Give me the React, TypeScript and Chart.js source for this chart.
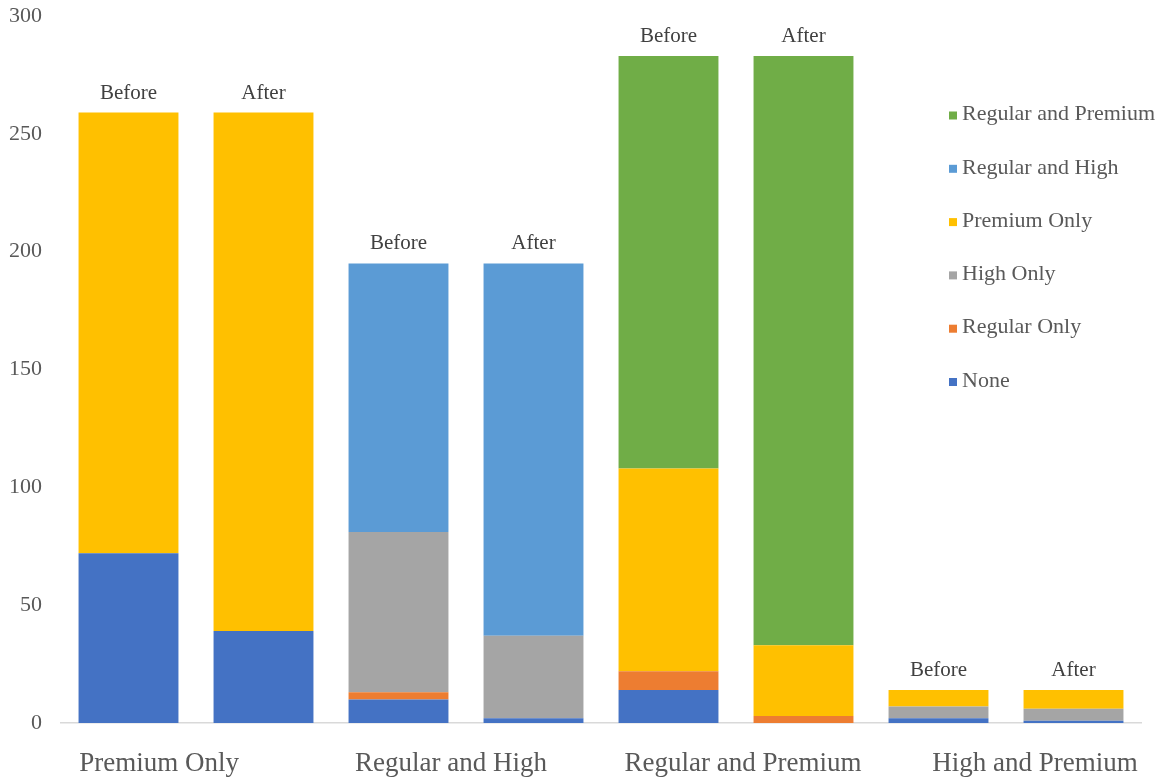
import { useEffect, useRef } from "react";
import { Chart, registerables } from "chart.js";

Chart.register(...registerables);

// Customer groups, each shown as a Before / After pair of stacked bars
const groups = ["Premium Only", "Regular and High", "Regular and Premium", "High and Premium"];
const phases = ["Before", "After"];
const barLabels = groups.flatMap(() => phases);

// Values per bar, in order: group 1 Before, group 1 After, group 2 Before, ...
const none = [72, 39, 10, 2, 14, 0, 2, 1];
const regularOnly = [0, 0, 3, 0, 8, 3, 0, 0];
const highOnly = [0, 0, 68, 35, 0, 0, 5, 5];
const premiumOnly = [187, 220, 0, 0, 86, 30, 7, 8];
const regularAndHigh = [0, 0, 114, 158, 0, 0, 0, 0];
const regularAndPremium = [0, 0, 0, 0, 175, 250, 0, 0];

const seriesNames = ["None", "Regular Only", "High Only", "Premium Only", "Regular and High", "Regular and Premium"];
const seriesValues = [none, regularOnly, highOnly, premiumOnly, regularAndHigh, regularAndPremium];
const seriesColors = ["#4472C4", "#ED7D31", "#A5A5A5", "#FFC000", "#5B9BD5", "#70AD47"];

const yMin = 0;
const yMax = 300;
const yStep = 50;

// Range of the axis that carries the group names
const groupAxisMin = -0.336;
const groupAxisMax = 3.363;

const FONT = '"Liberation Serif", "Times New Roman", serif';
const AXIS_TEXT = "#595959";
const LABEL_TEXT = "#404040";

// "Before" / "After" written above each stacked bar
const phaseLabelPlugin = {
  id: "phaseLabels",
  afterDatasetsDraw(chart: any) {
    const { ctx } = chart;
    const xScale = chart.scales.x;
    const yScale = chart.scales.y;
    ctx.save();
    ctx.font = `21px ${FONT}`;
    ctx.fillStyle = LABEL_TEXT;
    ctx.textAlign = "center";
    ctx.textBaseline = "alphabetic";
    barLabels.forEach((label, i) => {
      const total = seriesValues.reduce((sum, arr) => sum + arr[i], 0);
      const x = xScale.getPixelForValue(i);
      const y = yScale.getPixelForValue(total);
      ctx.fillText(label, x, y - 14);
    });
    ctx.restore();
  },
};

// Vertical legend inside the plot, top series first
const insideLegendPlugin = {
  id: "insideLegend",
  afterDraw(chart: any) {
    const { ctx, chartArea } = chart;
    const boxSize = 8;
    const left = chartArea.right - 192;
    const firstRow = chartArea.top + 98.5;
    const rowGap = 53.3;
    ctx.save();
    ctx.font = `22px ${FONT}`;
    ctx.textAlign = "left";
    ctx.textBaseline = "middle";
    const order = seriesNames.map((_, i) => i).reverse();
    order.forEach((idx, row) => {
      const cy = firstRow + row * rowGap;
      ctx.fillStyle = seriesColors[idx];
      ctx.fillRect(left, cy - boxSize / 2 + 1, boxSize, boxSize);
      ctx.fillStyle = AXIS_TEXT;
      ctx.fillText(seriesNames[idx], left + 13, cy);
    });
    ctx.restore();
  },
};

export default function App() {
  const canvasRef = useRef<HTMLCanvasElement | null>(null);

  useEffect(() => {
    if (!canvasRef.current) return;
    const chart = new Chart(canvasRef.current, {
      type: "bar",
      data: {
        labels: barLabels,
        datasets: seriesNames.map((name, i) => ({
          label: name,
          data: seriesValues[i],
          backgroundColor: seriesColors[i],
          borderWidth: 0,
          xAxisID: "x",
          yAxisID: "y",
          barPercentage: 0.74,
          categoryPercentage: 1,
        })),
      },
      options: {
        animation: false,
        responsive: true,
        maintainAspectRatio: false,
        layout: { padding: { left: 8, right: 20, top: 16, bottom: 0 } },
        plugins: {
          legend: { display: false },
          tooltip: { enabled: false },
        },
        scales: {
          x: {
            type: "category",
            stacked: true,
            offset: true,
            grid: { display: false, drawTicks: false },
            border: { display: true, color: "#D9D9D9", width: 1.5 },
            ticks: { display: false },
            afterFit: (scale: any) => {
              scale.height = 0;
              scale.paddingLeft = 0;
              scale.paddingRight = 0;
            },
          },
          groups: {
            type: "linear",
            position: "bottom",
            offset: false,
            bounds: "data",
            beginAtZero: false,
            grace: 0,
            min: groupAxisMin,
            max: groupAxisMax,
            grid: { display: false, drawTicks: false, offset: false },
            border: { display: false },
            afterDataLimits: (scale: any) => {
              scale.min = groupAxisMin;
              scale.max = groupAxisMax;
            },
            afterBuildTicks: (scale: any) => {
              scale.min = groupAxisMin;
              scale.max = groupAxisMax;
              scale.ticks = groups.map((_, i) => ({ value: i }));
            },
            ticks: {
              autoSkip: false,
              maxRotation: 0,
              minRotation: 0,
              padding: 25,
              color: AXIS_TEXT,
              font: { family: FONT, size: 27 },
              callback: (value: any) => groups[Number(value)] ?? "",
            },
            afterFit: (scale: any) => {
              scale.height = 57;
              scale.paddingLeft = 0;
              scale.paddingRight = 0;
            },
          },
          y: {
            stacked: true,
            min: yMin,
            max: yMax,
            grid: { display: false, drawTicks: false },
            border: { display: false },
            ticks: {
              stepSize: yStep,
              padding: 19,
              color: AXIS_TEXT,
              font: { family: FONT, size: 22 },
            },
            afterFit: (scale: any) => {
              scale.width = 53;
              scale.paddingTop = 0;
              scale.paddingBottom = 0;
            },
          },
        },
      },
      plugins: [phaseLabelPlugin, insideLegendPlugin],
    });
    return () => chart.destroy();
  }, []);

  return (
    <div style={{ position: "absolute", left: 0, top: 0, width: 1161, height: 780, background: "#ffffff" }}>
      <canvas ref={canvasRef} />
    </div>
  );
}
